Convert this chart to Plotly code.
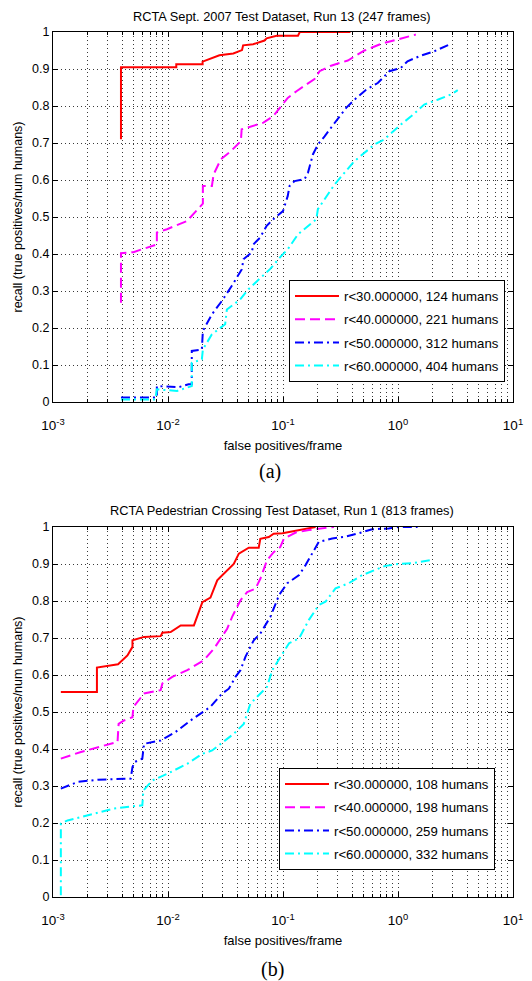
import plotly.graph_objects as go

# ---------------- data ----------------
# (a) RCTA Sept. 2007 Test Dataset, Run 13
a_labels = ["r&lt;30.000000, 124 humans", "r&lt;40.000000, 221 humans",
            "r&lt;50.000000, 312 humans", "r&lt;60.000000, 404 humans"]
a_r30_fp = [0.0039, 0.0039, 0.0118, 0.0118, 0.020, 0.020, 0.028, 0.037, 0.044, 0.045,
            0.055, 0.059, 0.069, 0.072, 0.088, 0.135, 0.14, 0.386]
a_r30_recall = [0.71, 0.905, 0.905, 0.913, 0.913, 0.92, 0.937, 0.942, 0.951, 0.964,
                0.967, 0.97, 0.977, 0.983, 0.99, 0.99, 1.0, 1.0]
a_r40_fp = [0.0039, 0.0039, 0.0050, 0.0080, 0.0080, 0.0098, 0.0146, 0.0201, 0.0201, 0.0241,
            0.0249, 0.0288, 0.0347, 0.0430, 0.0437, 0.0553, 0.0676, 0.0824, 0.100, 0.110,
            0.131, 0.159, 0.188, 0.208, 0.262, 0.366, 0.511, 0.713, 0.993, 1.43]
a_r40_recall = [0.268, 0.402, 0.405, 0.426, 0.458, 0.467, 0.489, 0.536, 0.584, 0.584,
                0.615, 0.656, 0.676, 0.705, 0.737, 0.746, 0.755, 0.773, 0.804, 0.822,
                0.84, 0.858, 0.873, 0.894, 0.909, 0.923, 0.95, 0.968, 0.979, 0.993]
a_r50_fp = [0.0039, 0.0080, 0.0080, 0.0124, 0.0151, 0.0161, 0.0161, 0.0197, 0.0201, 0.0241,
            0.0294, 0.0359, 0.0439, 0.0453, 0.0535, 0.0553, 0.0631, 0.0721, 0.0824, 0.100,
            0.110, 0.114, 0.126, 0.154, 0.165, 0.182, 0.201, 0.230, 0.281, 0.354,
            0.418, 0.528, 0.667, 0.787, 0.841, 1.06, 1.21, 1.58, 2.07, 2.79]
a_r50_recall = [0.012, 0.012, 0.043, 0.040, 0.048, 0.048, 0.138, 0.142, 0.192, 0.237,
                0.273, 0.314, 0.359, 0.386, 0.404, 0.426, 0.444, 0.476, 0.494, 0.516,
                0.557, 0.584, 0.597, 0.602, 0.62, 0.669, 0.696, 0.718, 0.754, 0.795,
                0.817, 0.844, 0.862, 0.885, 0.894, 0.903, 0.921, 0.936, 0.948, 0.966]
a_r60_fp = [0.0039, 0.00776, 0.0080, 0.0120, 0.0161, 0.0161, 0.0197, 0.0201, 0.0241, 0.0314,
            0.0325, 0.0424, 0.0501, 0.0592, 0.0771, 0.0955, 0.110, 0.135, 0.165, 0.195,
            0.201, 0.230, 0.281, 0.343, 0.418, 0.478, 0.624, 0.762, 0.869, 1.06,
            1.30, 1.69, 2.21, 2.88, 3.31]
a_r60_recall = [0.007, 0.007, 0.034, 0.030, 0.043, 0.106, 0.115, 0.142, 0.183, 0.21,
                0.25, 0.277, 0.305, 0.327, 0.359, 0.393, 0.413, 0.453, 0.476, 0.494,
                0.521, 0.548, 0.588, 0.62, 0.651, 0.666, 0.696, 0.71, 0.727, 0.75,
                0.772, 0.804, 0.817, 0.831, 0.843]

# (b) RCTA Pedestrian Crossing Test Dataset, Run 1
b_labels = ["r&lt;30.000000, 108 humans", "r&lt;40.000000, 198 humans",
            "r&lt;50.000000, 259 humans", "r&lt;60.000000, 332 humans"]
b_r30_fp = [0.00117, 0.00241, 0.00241, 0.00288, 0.00368, 0.00444, 0.00491, 0.00491, 0.00619,
            0.00863, 0.00893, 0.01054, 0.0129, 0.0168, 0.0174, 0.0186, 0.0199, 0.0234, 0.0251,
            0.0268, 0.0286, 0.0338, 0.0373, 0.0413, 0.0504, 0.0615, 0.0635, 0.0752, 0.083,
            0.099, 0.138, 0.192]
b_r30_recall = [0.554, 0.554, 0.62, 0.623, 0.629, 0.653, 0.676, 0.694, 0.703,
                0.705, 0.714, 0.716, 0.734, 0.734, 0.748, 0.773, 0.797, 0.809, 0.833,
                0.856, 0.865, 0.887, 0.9, 0.928, 0.944, 0.944, 0.968, 0.973, 0.982,
                0.983, 0.992, 1.0]
b_r40_fp = [0.00117, 0.00175, 0.00261, 0.00364, 0.00372, 0.00415, 0.00491, 0.00501, 0.00619,
            0.00863, 0.00893, 0.0109, 0.0147, 0.0205, 0.0251, 0.0286, 0.0327, 0.0361, 0.0427,
            0.0488, 0.0575, 0.0635, 0.0726, 0.083, 0.0948, 0.102, 0.129, 0.168, 0.226, 0.277]
b_r40_recall = [0.374, 0.392, 0.407, 0.419, 0.468, 0.477, 0.486, 0.514, 0.55,
                0.559, 0.577, 0.595, 0.613, 0.64, 0.671, 0.698, 0.725, 0.757, 0.802,
                0.824, 0.833, 0.86, 0.91, 0.932, 0.946, 0.969, 0.985, 0.992, 0.996, 1.0]
b_r50_fp = [0.00117, 0.00164, 0.00244, 0.00474, 0.00491, 0.00514, 0.00598, 0.00619, 0.00863,
            0.01164, 0.0157, 0.0192, 0.0234, 0.0296, 0.0338, 0.0386, 0.0427, 0.0471, 0.0557,
            0.0635, 0.0776, 0.0887, 0.0923, 0.109, 0.138, 0.157, 0.186, 0.205, 0.268, 0.349,
            0.456, 0.596, 0.83, 1.01, 1.48]
b_r50_recall = [0.293, 0.311, 0.317, 0.32, 0.351, 0.365, 0.374, 0.414, 0.423,
                0.446, 0.477, 0.495, 0.514, 0.55, 0.563, 0.595, 0.613, 0.649, 0.694,
                0.712, 0.757, 0.802, 0.816, 0.848, 0.87, 0.897, 0.938, 0.96, 0.969, 0.974,
                0.983, 0.994, 0.996, 1.0, 1.0]
b_r60_fp = [0.00117, 0.00117, 0.00134, 0.0020, 0.0034, 0.00598, 0.00611, 0.00731, 0.00986,
            0.0147, 0.0199, 0.0242, 0.0286, 0.0373, 0.0456, 0.0488, 0.0521, 0.0596, 0.0726,
            0.0809, 0.102, 0.113, 0.138, 0.168, 0.205, 0.234, 0.286, 0.373, 0.488, 0.635,
            0.776, 1.01, 1.32, 1.97]
b_r60_recall = [0.005, 0.198, 0.207, 0.221, 0.239, 0.248, 0.288, 0.315, 0.333,
                0.36, 0.387, 0.396, 0.414, 0.441, 0.468, 0.495, 0.523, 0.541, 0.568,
                0.614, 0.663, 0.686, 0.699, 0.749, 0.789, 0.798, 0.834, 0.848, 0.87, 0.884,
                0.895, 0.9, 0.902, 0.911]

title_a = "RCTA Sept. 2007 Test Dataset, Run 13 (247 frames)"
title_b = "RCTA Pedestrian Crossing Test Dataset, Run 1 (813 frames)"
x_title = "false positives/frame"
y_title = "recall (true positives/num humans)"
x_tickvals = [1e-3, 1e-2, 1e-1, 1e0, 1e1]
x_ticktext = ["10<sup>-3</sup>", "10<sup>-2</sup>", "10<sup>-1</sup>", "10<sup>0</sup>", "10<sup>1</sup>"]
x_minor_vals = [k * 10.0 ** e for e in range(-3, 1) for k in range(2, 10)]

# ---------------- styles ----------------
colors = ["#ff0000", "#ff00ff", "#0000ff", "#00ffff"]
dashes = ["solid", "10px,5px", "9px,4px,2px,4px", "9px,4px,2px,4px"]
FONT = "Liberation Sans, Arial, sans-serif"
GRIDC = "#3a3a3a"

# The page body has an 8px margin: the figure is sized/offset to compensate.
W, H = 524, 973
PL, PR, PT, PB = 45, 19, 24, 84          # plot area: 460 x 865
PAREA_H = H - PT - PB


def py(y_page):
    """page pixel row (reference picture) -> paper fraction"""
    return (H + 8 - PB - y_page) / PAREA_H


def px(x_page):
    return (x_page - 8 - PL) / (W - PL - PR)


fig = go.Figure()

a_series = [(a_r30_fp, a_r30_recall), (a_r40_fp, a_r40_recall),
            (a_r50_fp, a_r50_recall), (a_r60_fp, a_r60_recall)]
b_series = [(b_r30_fp, b_r30_recall), (b_r40_fp, b_r40_recall),
            (b_r50_fp, b_r50_recall), (b_r60_fp, b_r60_recall)]

for i, (xs, ys) in enumerate(a_series):
    fig.add_trace(go.Scatter(x=xs, y=ys, mode="lines", name=a_labels[i],
                             line=dict(color=colors[i], width=2, dash=dashes[i]),
                             xaxis="x", yaxis="y", legend="legend",
                             legendgroup="a%d" % i))
for i, (xs, ys) in enumerate(b_series):
    fig.add_trace(go.Scatter(x=xs, y=ys, mode="lines", name=b_labels[i],
                             line=dict(color=colors[i], width=2, dash=dashes[i]),
                             xaxis="x2", yaxis="y2", legend="legend2",
                             legendgroup="b%d" % i))

grid = dict(showgrid=True, gridcolor=GRIDC, gridwidth=1, griddash="1px,3px")
xcommon = dict(type="log", range=[-3, 1], tickmode="array", tickvals=x_tickvals,
               ticktext=x_ticktext, ticks="inside", ticklen=5, tickcolor="#000",
               showline=True, linecolor="#000", linewidth=1, mirror="allticks",
               zeroline=False, tickfont=dict(size=13.5, color="#000"), ticklabelstandoff=11,
               minor=dict(tickmode="array", tickvals=x_minor_vals, ticks="inside",
                          ticklen=3, tickcolor="#000", **grid),
               title=dict(text=x_title, font=dict(size=13, color="#000"), standoff=8),
               **grid)
ycommon = dict(range=[0, 1], tickmode="linear", tick0=0, dtick=0.1, ticks="inside",
               ticklen=5, tickcolor="#000", showline=True, linecolor="#000", linewidth=1,
               mirror="allticks", zeroline=False, tickfont=dict(size=12.5, color="#000"),
               title=dict(text=y_title, font=dict(size=12.5, color="#000"), standoff=6),
               **grid)

top_lo = py(402)
bot_hi = py(527)

legend_common = dict(xanchor="right", yanchor="top", bgcolor="white", bordercolor="#000",
                     borderwidth=1, font=dict(size=13.2, color="#000"),
                     tracegroupgap=3, itemwidth=44)

fig.update_layout(
    width=W, height=H,
    margin=dict(l=PL, r=PR, t=PT, b=PB, autoexpand=False),
    paper_bgcolor="white", plot_bgcolor="white",
    font=dict(family=FONT, size=12, color="#000"),
    xaxis=dict(domain=[0, 1], anchor="y", **xcommon),
    yaxis=dict(domain=[top_lo, 1], anchor="x", **ycommon),
    xaxis2=dict(domain=[0, 1], anchor="y2", **xcommon),
    yaxis2=dict(domain=[0, bot_hi], anchor="x2", **ycommon),
    showlegend=True,
    legend=dict(x=px(505), y=py(280), **legend_common),
    legend2=dict(x=px(495), y=py(768), **legend_common),
    annotations=[
        dict(text=title_a, x=px(282), y=py(16), xref="paper", yref="paper",
             showarrow=False, xanchor="center", yanchor="middle", font=dict(size=12.8)),
        dict(text=title_b, x=px(282), y=py(510), xref="paper", yref="paper",
             showarrow=False, xanchor="center", yanchor="middle", font=dict(size=12.8)),
        dict(text="(a)", x=px(270), y=py(471), xref="paper", yref="paper",
             showarrow=False, xanchor="center", yanchor="middle",
             font=dict(family="Liberation Serif, Times New Roman, serif", size=20)),
        dict(text="(b)", x=px(272), y=py(969), xref="paper", yref="paper",
             showarrow=False, xanchor="center", yanchor="middle",
             font=dict(family="Liberation Serif, Times New Roman, serif", size=20)),
    ],
)

fig.write_html("out.html")
